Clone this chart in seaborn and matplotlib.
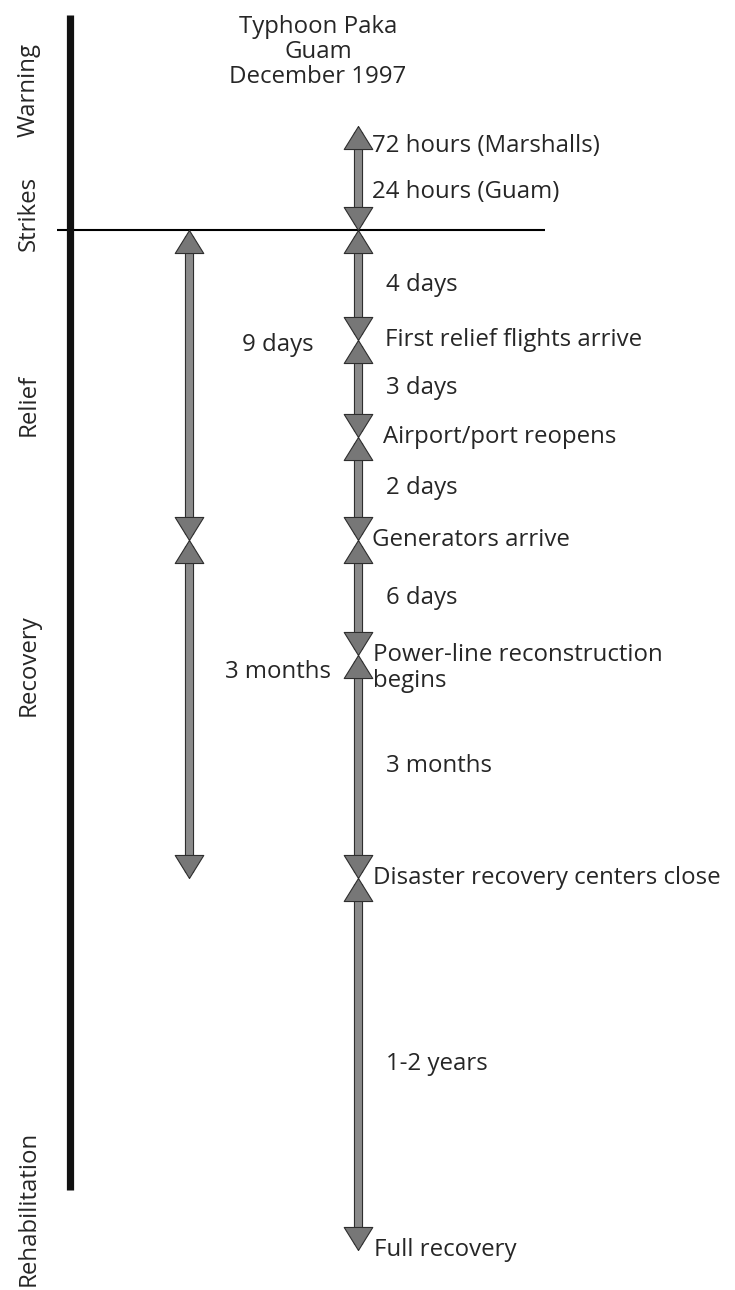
import matplotlib
matplotlib.use("Agg")
import matplotlib.pyplot as plt
import seaborn as sns

# Timeline data (schematic vertical scale, strike = 230)
title_lines = ["Typhoon Paka", "Guam", "December 1997"]
phases = ["Warning", "Strikes", "Relief", "Recovery", "Rehabilitation"]
phase_pos = [90, 213, 405, 665, 1208]

warning_top = 126
strike = 230
warning_labels = ["72 hours (Marshalls)", "24 hours (Guam)"]

# right-hand column: milestones and the durations between them
events = ["First relief flights arrive", "Airport/port reopens", "Generators arrive",
          "Power-line reconstruction\nbegins", "Disaster recovery centers close",
          "Full recovery"]
event_pos = [340, 437, 540, 655, 878, 1250]
durations = ["4 days", "3 days", "2 days", "6 days", "3 months", "1-2 years"]

# left-hand column: relief / recovery phases
left_pos = [230, 540, 878]
left_durations = ["9 days", "3 months"]
left_frac = [0.37, 0.39]

sns.set_style("white")
plt.rcParams["font.family"] = ["Open Sans", "DejaVu Sans"]

W, H = 735, 1290
fig = plt.figure(figsize=(W / 100, H / 100), dpi=100)
ax = fig.add_axes([0, 0, 1, 1])
ax.set_xlim(0, W)
ax.set_ylim(H, 0)
ax.axis("off")

FS = 17.3
X_L, X_R = 189, 358
event_dx = [27, 25, 14, 15, 15, 16]
SHAFT = "#8a8a8a"
HEAD = "#777777"
EDGE = "#2e2e2e"
down_head = [(0, 0), (-0.62, 1), (0.62, 1), (0, 0)]
up_head = [(0, 0), (-0.62, -1), (0.62, -1), (0, 0)]


def column(x, stops):
    # shaft with a dark rim, tucked under the heads
    ax.vlines(x, stops[0] + 6, stops[-1] - 6, color=EDGE, lw=6.6, zorder=2)
    ax.vlines(x, stops[0] + 6, stops[-1] - 6, color=SHAFT, lw=5.0, zorder=3)
    ups = stops[:-1]
    sns.scatterplot(x=[x] * len(ups), y=ups, marker=up_head, s=1100,
                    color=HEAD, edgecolor=EDGE, linewidth=0.8, zorder=4, ax=ax)
    downs = stops[1:]
    sns.scatterplot(x=[x] * len(downs), y=downs, marker=down_head, s=1100,
                    color=HEAD, edgecolor=EDGE, linewidth=0.8, zorder=4, ax=ax)


# big time bar and the strike line
ax.vlines(70, 15, 1190, color="#111111", lw=5.2, zorder=2)
ax.hlines(strike, 57, 545, color="black", lw=1.5, zorder=1)

# title
for i, line in enumerate(title_lines):
    ax.text(318, 27 + i * 25, line, fontsize=FS, ha="center", va="center")

# phase labels
for name, y in zip(phases, phase_pos):
    ax.text(29, y, name, fontsize=FS, rotation=90, ha="center", va="center")

# warning arrow
column(X_R, [warning_top, strike])
ax.text(X_R + 14, warning_top + 20, warning_labels[0], fontsize=FS, va="center")
ax.text(X_R + 14, strike - 38, warning_labels[1], fontsize=FS, va="center")

# right column
stops = [strike] + event_pos
for a, b in zip(stops[:-1], stops[1:]):
    column(X_R, [a, b])
for name, y, dx in zip(events, event_pos, event_dx):
    lines = name.split("\n")
    for k, ln in enumerate(lines):
        ax.text(X_R + dx, y + k * 26, ln, fontsize=FS, va="center")
for d, a, b in zip(durations, stops[:-1], stops[1:]):
    ax.text(X_R + 28, (a + b) / 2, d, fontsize=FS, va="center")

# left column
for d, a, b, f in zip(left_durations, left_pos[:-1], left_pos[1:], left_frac):
    column(X_L, [a, b])
    ax.text(278, a + f * (b - a), d, fontsize=FS, ha="center", va="center")

fig.savefig("out.png", dpi=100, facecolor="white")
